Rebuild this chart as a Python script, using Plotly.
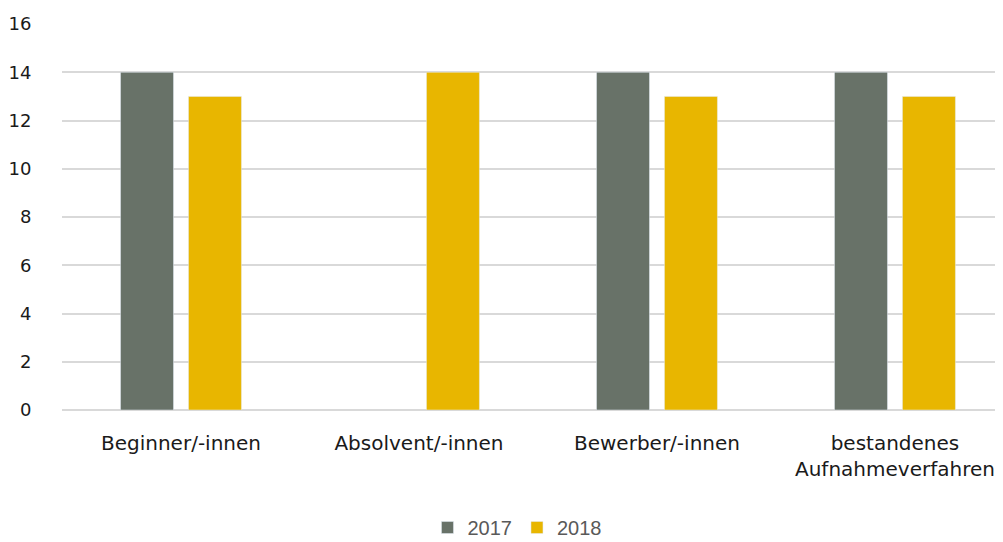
import plotly.graph_objects as go

categories = ["Beginner/-innen", "Absolvent/-innen", "Bewerber/-innen",
              "bestandenes<br>Aufnahmeverfahren"]
values_2017 = [14, None, 14, 14]
values_2018 = [13, 14, 13, 13]
y_ticks = [0, 2, 4, 6, 8, 10, 12, 14, 16]

fig = go.Figure()
fig.add_trace(go.Bar(x=categories, y=values_2017, name="2017", marker_color="#687268"))
fig.add_trace(go.Bar(x=categories, y=values_2018, name="2018", marker_color="#E8B600"))

# page body has an 8px margin, so offsets are compensated here
fig.update_layout(
    width=995, height=534,
    margin=dict(l=54, r=0, t=16, b=132, autoexpand=False),
    paper_bgcolor="white",
    plot_bgcolor="white",
    barmode="group",
    bargap=0.429,
    bargroupgap=0.22,
    font=dict(family="DejaVu Sans", size=18, color="#1a1a1a"),
    legend=dict(
        orientation="h", x=0.4835, xanchor="center", y=-0.355, yanchor="bottom",
        font=dict(family="Liberation Sans", size=20, color="#595959"),
        itemwidth=30, traceorder="normal",
    ),
)
# original chart is cropped on the right, so the last category runs past the edge
fig.update_xaxes(range=[-0.5, 3.454], showgrid=False, showline=False, ticks="outside",
                 ticklen=15, tickcolor="white", tickfont=dict(size=20), automargin=False)
fig.update_yaxes(range=[0, 16], tickvals=y_ticks, showgrid=True, gridcolor="#d9d9d9",
                 gridwidth=2, zeroline=True, zerolinecolor="#d9d9d9", zerolinewidth=2,
                 ticks="outside", ticklen=26, tickcolor="white", tickfont=dict(size=18),
                 automargin=False)

fig.write_html("out.html")
